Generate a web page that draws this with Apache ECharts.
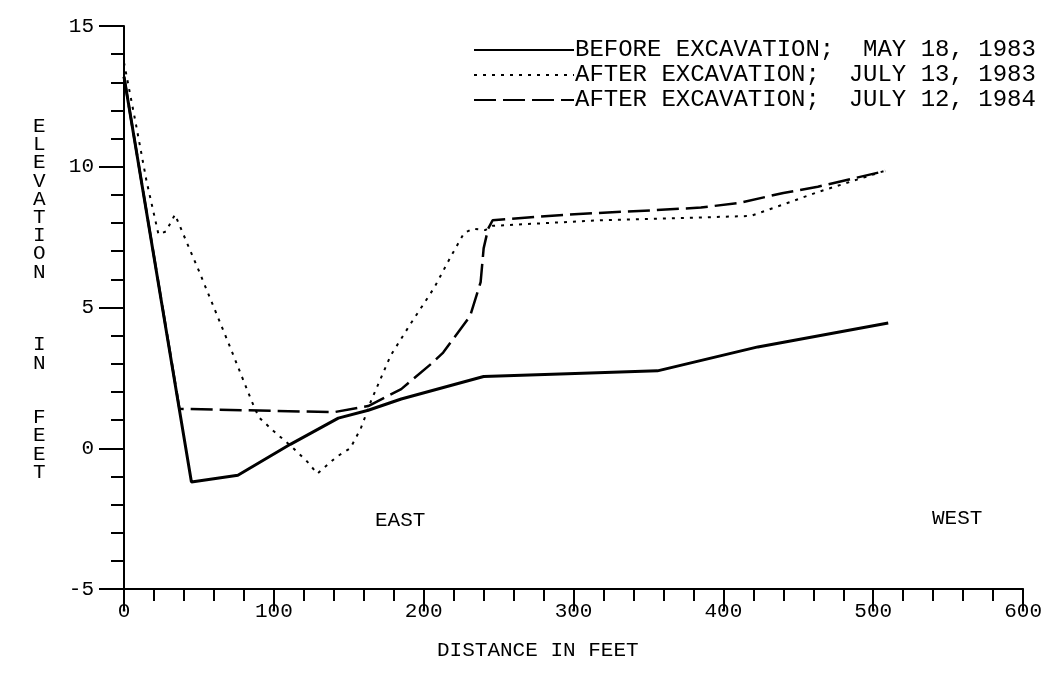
<!DOCTYPE html>
<html>
<head>
<meta charset="utf-8">
<script src="https://cdn.jsdelivr.net/npm/echarts@6/dist/echarts.min.js"></script>
<style>
  html, body { margin: 0; padding: 0; background: #fff; }
  #chart { width: 1045px; height: 677px; }
</style>
</head>
<body>
<div id="chart"></div>
<script>
// elevation profiles, distance in feet / elevation in feet
const beforeX = [0, 45, 76, 111, 143, 163, 185, 240, 296, 356, 423, 510];
const beforeY = [13.2, -1.2, -0.96, 0.14, 1.07, 1.35, 1.75, 2.55, 2.65, 2.75, 3.6, 4.45];

const july83X = [0, 8, 15, 23, 28, 34, 50, 70, 85, 90, 100, 111, 122, 129, 142, 151, 158, 165, 178, 191, 207, 218, 227, 233, 241, 246, 318, 418, 440, 463, 508];
const july83Y = [13.7, 11.5, 9.5, 7.6, 7.7, 8.3, 6.3, 3.7, 1.7, 1.1, 0.6, 0.1, -0.46, -0.9, -0.3, 0, 0.7, 1.7, 3.3, 4.4, 5.7, 6.8, 7.65, 7.8, 7.75, 7.9, 8.1, 8.25, 8.66, 9.1, 9.86];

const july84X = [0, 37, 140, 163, 185, 205, 213, 231, 238, 240, 243, 246, 296, 351, 385, 411, 440, 463, 508];
const july84Y = [13.2, 1.4, 1.28, 1.5, 2.1, 3.0, 3.4, 4.7, 5.9, 7.1, 7.8, 8.1, 8.3, 8.45, 8.55, 8.72, 9.07, 9.29, 9.85];

const seriesNames = [
  'BEFORE EXCAVATION;  MAY 18, 1983',
  'AFTER EXCAVATION;  JULY 13, 1983',
  'AFTER EXCAVATION;  JULY 12, 1984'
];

const FONT = '"Liberation Mono", "DejaVu Sans Mono", monospace';
const pairs = (xs, ys) => xs.map((x, i) => [x, ys[i]]);

const chart = echarts.init(document.getElementById('chart'));

const option = {
  backgroundColor: '#fff',
  animation: false,
  textStyle: { fontFamily: FONT, color: '#000' },
  grid: { left: 124, right: 21, top: 26, bottom: 88 },
  legend: {
    orient: 'vertical',
    left: 468,
    top: 33,
    itemWidth: 100,
    itemHeight: 14,
    itemGap: 1,
    data: seriesNames,
    itemStyle: { opacity: 0 },
    textStyle: { fontFamily: FONT, fontSize: 24, lineHeight: 24, color: '#000', padding: [0, 0, 0, -4] }
  },
  xAxis: {
    type: 'value',
    min: 0,
    max: 600,
    interval: 100,
    axisLine: { onZero: false, lineStyle: { color: '#000', width: 2 } },
    axisTick: { inside: false, length: 22, lineStyle: { color: '#000', width: 2 } },
    minorTick: { show: true, splitNumber: 5, length: 12, lineStyle: { color: '#000', width: 2 } },
    axisLabel: { fontFamily: FONT, fontSize: 21, color: '#000', margin: 12 },
    splitLine: { show: false }
  },
  yAxis: {
    type: 'value',
    min: -5,
    max: 15,
    interval: 5,
    axisLine: { show: true, onZero: false, lineStyle: { color: '#000', width: 2 } },
    axisTick: { show: true, inside: false, length: 25, lineStyle: { color: '#000', width: 2 } },
    minorTick: { show: true, splitNumber: 5, length: 13, lineStyle: { color: '#000', width: 2 } },
    axisLabel: { fontFamily: FONT, fontSize: 21, color: '#000', margin: 30 },
    splitLine: { show: false }
  },
  graphic: [
    {
      type: 'text',
      left: 33,
      top: 116,
      style: {
        text: 'E\nL\nE\nV\nA\nT\nI\nO\nN\n\n\n\nI\nN\n\n\nF\nE\nE\nT',
        font: '21px ' + FONT,
        lineHeight: 18.2,
        fill: '#000'
      }
    },
    { type: 'text', left: 437, top: 640, style: { text: 'DISTANCE IN FEET', font: '21px ' + FONT, fill: '#000' } },
    { type: 'text', left: 375, top: 510, style: { text: 'EAST', font: '21px ' + FONT, fill: '#000' } },
    { type: 'text', left: 932, top: 508, style: { text: 'WEST', font: '21px ' + FONT, fill: '#000' } }
  ],
  series: [
    {
      name: seriesNames[0],
      type: 'line',
      data: pairs(beforeX, beforeY),
      symbol: 'none',
      lineStyle: { color: '#000', width: 3, type: 'solid' },
      itemStyle: { color: '#000' }
    },
    {
      name: seriesNames[1],
      type: 'line',
      data: pairs(july83X, july83Y),
      symbol: 'none',
      lineStyle: { color: '#000', width: 2, type: [3, 6] },
      itemStyle: { color: '#000' }
    },
    {
      name: seriesNames[2],
      type: 'line',
      data: pairs(july84X, july84Y),
      symbol: 'none',
      lineStyle: { color: '#000', width: 2.5, type: [22, 7] },
      itemStyle: { color: '#000' }
    }
  ]
};

chart.setOption(option);
window.addEventListener('resize', () => chart.resize());
</script>
</body>
</html>
